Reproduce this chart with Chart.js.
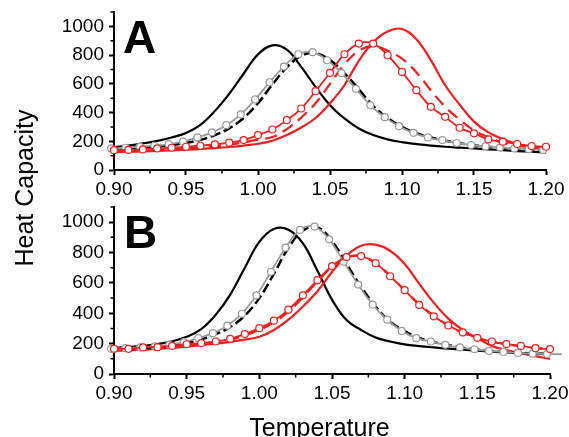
<!DOCTYPE html>
<html>
<head>
<meta charset="utf-8">
<script src="https://cdn.jsdelivr.net/npm/chart.js@4.4.0/dist/chart.umd.min.js"></script>
<style>
  html, body { margin: 0; padding: 0; background: #fff; overflow: hidden; }
  #wrap { position: relative; width: 569px; height: 437px; font-family: "Liberation Sans", Arial, sans-serif; }
  canvas { position: absolute; left: 0; }
  #chartA { top: 0; }
  #chartB { top: 200px; }
  .axisTitle { position: absolute; font-size: 25px; line-height: 30px; height: 30px; text-align: center; color: #000; white-space: nowrap; }
  #yTitle { width: 200px; left: -76px; top: 173px; transform: rotate(-90deg); }
  #xTitle { width: 300px; left: 169.5px; top: 412px; }
</style>
</head>
<body>
<div id="wrap">
  <canvas id="chartA" width="569" height="200"></canvas>
  <canvas id="chartB" width="569" height="237"></canvas>
  <div id="yTitle" class="axisTitle">Heat Capacity</div>
  <div id="xTitle" class="axisTitle">Temperature</div>
</div>
<script>
// temperatures
const temps = [0.90, 0.91, 0.92, 0.93, 0.94, 0.95, 0.96, 0.97, 0.98, 0.99, 1.00,
  1.01, 1.02, 1.03, 1.04, 1.05, 1.06, 1.07, 1.08, 1.09, 1.10,
  1.11, 1.12, 1.13, 1.14, 1.15, 1.16, 1.17, 1.18, 1.19, 1.20];
const tempsGrayA = [0.898, 0.908, 0.918, 0.928, 0.938, 0.948, 0.958, 0.968, 0.978, 0.988, 0.998,
  1.008, 1.018, 1.028, 1.038, 1.048, 1.058, 1.068, 1.078, 1.088, 1.098,
  1.108, 1.118, 1.128, 1.138, 1.148, 1.158, 1.168, 1.178, 1.188, 1.198];
const tempsGrayB = [0.898, 0.908, 0.918, 0.928, 0.938, 0.948, 0.958, 0.968, 0.978, 0.988, 0.998,
  1.008, 1.018, 1.028, 1.038, 1.048, 1.058, 1.068, 1.078, 1.088, 1.098,
  1.108, 1.118, 1.128, 1.138, 1.148, 1.158, 1.168, 1.178, 1.188, 1.198, 1.208];

// tick labels
const tempTicks = [0.90, 0.95, 1.00, 1.05, 1.10, 1.15, 1.20];
const tempMinor = [0.925, 0.975, 1.025, 1.075, 1.125, 1.175];
const heatTicks = [0, 200, 400, 600, 800, 1000];
const heatMinor = [100, 300, 500, 700, 900, 1100];

// panel A
const blackSolidA = [158, 170, 185, 203, 226, 258, 315, 410, 530, 670, 805,
  868, 838, 718, 578, 451, 359, 289, 243, 213, 194,
  180, 170, 162, 156, 150, 144, 138, 132, 127, 122];
const blackDashA = [148, 152, 157, 164, 174, 189, 210, 243, 290, 362, 465,
  595, 715, 795, 812, 765, 675, 562, 447, 362, 300,
  256, 226, 204, 187, 173, 162, 153, 146, 140, 135];
const grayCircA = [150, 155, 161, 169, 180, 197, 227, 262, 312, 387, 491,
  611, 720, 806, 820, 764, 675, 565, 450, 368, 305,
  259, 227, 208, 188, 174, 164, 156, 150, 145, 140];
const redSolidA = [125, 127, 130, 133, 137, 141, 146, 152, 160, 170, 183,
  204, 243, 296, 362, 465, 590, 760, 890, 965, 982,
  910, 765, 590, 455, 337, 262, 215, 180, 157, 140];
const redDashA = [135, 135, 137, 140, 144, 150, 157, 165, 176, 192, 212,
  230, 285, 365, 465, 600, 735, 830, 862, 830, 775,
  680, 555, 440, 350, 275, 228, 190, 170, 158, 150];
const redCircA = [138, 140, 143, 150, 155, 162, 169, 178, 190, 208, 243,
  282, 347, 428, 549, 676, 806, 880, 880, 799, 683,
  556, 440, 370, 294, 255, 213, 197, 181, 167, 162];

// panel B
const blackSolidB = [172, 178, 186, 197, 215, 245, 295, 390, 523, 700, 870,
  955, 950, 860, 680, 490, 355, 290, 240, 214, 195,
  184, 175, 167, 160, 153, 147, 142, 138, 134, 130];
const blackDashB = [160, 163, 168, 175, 185, 203, 228, 262, 310, 385, 500,
  660, 830, 945, 965, 875, 725, 575, 445, 345, 283,
  237, 210, 190, 173, 161, 151, 144, 139, 135, 131];
const grayCircB = [166, 170, 175, 182, 192, 210, 236, 269, 318, 397, 518,
  673, 832, 949, 971, 887, 740, 589, 457, 358, 284,
  236, 214, 192, 175, 163, 152, 145, 139, 134, 132, 130];
const redSolidB = [152, 155, 160, 165, 172, 181, 190, 200, 212, 226, 245,
  290, 358, 445, 545, 672, 780, 845, 852, 812, 725,
  595, 470, 365, 290, 236, 185, 158, 137, 118, 100];
const redDashB = [158, 160, 165, 170, 178, 188, 197, 208, 225, 255, 290,
  340, 410, 505, 610, 705, 765, 778, 730, 648, 552,
  460, 385, 318, 272, 238, 213, 196, 183, 171, 163];
const redCircB = [166, 166, 175, 177, 185, 196, 203, 214, 232, 263, 302,
  351, 424, 518, 618, 711, 770, 777, 730, 644, 552,
  455, 380, 320, 274, 238, 214, 197, 185, 170, 164];

const RED = "#f21d1d";
const GRAY = "#9a9a9a";
const FONT = '"Liberation Sans", Arial, sans-serif';
Chart.defaults.font.family = FONT;

function pts(xs, ys) {
  return xs.map((x, i) => ({ x: x, y: ys[i] }));
}

function line(xs, ys, style) {
  return Object.assign({
    data: pts(xs, ys),
    pointRadius: 0,
    borderWidth: 2.2,
    fill: false,
    tension: 0.4
  }, style);
}

function circles(xs, ys, color) {
  return line(xs, ys, {
    borderColor: color,
    borderWidth: 1.8,
    pointRadius: 3.5,
    pointBorderWidth: 1.2,
    pointBorderColor: color,
    pointBackgroundColor: "#fff",
    clip: false,
    order: 0
  });
}

// minor ticks and the panel letter
const panelDecor = {
  id: "panelDecor",
  afterDraw(chart, args, o) {
    const ctx = chart.ctx, area = chart.chartArea;
    const xs = chart.scales.x, ys = chart.scales.y;
    ctx.save();
    ctx.strokeStyle = "#000";
    ctx.lineWidth = 1.5;
    ctx.beginPath();
    tempMinor.forEach(v => {
      const px = xs.getPixelForValue(v);
      ctx.moveTo(px, area.bottom);
      ctx.lineTo(px, area.bottom + 3.5);
    });
    heatMinor.forEach(v => {
      const py = ys.getPixelForValue(v);
      ctx.moveTo(area.left, py);
      ctx.lineTo(area.left - 3.5, py);
    });
    ctx.stroke();
    ctx.fillStyle = "#000";
    ctx.font = "bold 46px " + FONT;
    ctx.textBaseline = "alphabetic";
    ctx.fillText(o.letter, area.left + o.dx, area.top + 41);
    ctx.restore();
  }
};

function makeChart(id, sets, letter, dx, padTop, padRight, xHeight) {
  return new Chart(document.getElementById(id), {
    type: "line",
    data: { datasets: sets },
    plugins: [panelDecor],
    options: {
      responsive: false,
      animation: false,
      events: [],
      layout: { padding: { top: padTop, right: padRight, left: 0, bottom: 0 } },
      plugins: {
        legend: { display: false },
        tooltip: { enabled: false },
        panelDecor: { letter: letter, dx: dx }
      },
      scales: {
        x: {
          type: "linear",
          min: 0.90,
          max: 1.20,
          afterBuildTicks: s => { s.ticks = tempTicks.map(v => ({ value: v })); },
          afterFit: s => { s.height = xHeight; s.paddingLeft = 0; s.paddingRight = 0; },
          ticks: {
            callback: v => v.toFixed(2),
            font: { size: 19 },
            color: "#000",
            padding: 3,
            maxRotation: 0,
            autoSkip: false
          },
          grid: { drawOnChartArea: false, tickLength: 5, tickWidth: 2, tickColor: "#000" },
          border: { color: "#000", width: 2 }
        },
        y: {
          min: 0,
          max: 1100,
          afterBuildTicks: s => { s.ticks = heatTicks.map(v => ({ value: v })); },
          afterFit: s => { s.width = 114; s.paddingTop = 0; s.paddingBottom = 0; },
          ticks: {
            callback: v => String(v),
            font: { size: 19 },
            color: "#000",
            padding: 5
          },
          grid: { drawOnChartArea: false, tickLength: 5, tickWidth: 2, tickColor: "#000" },
          border: { color: "#000", width: 2 }
        }
      }
    }
  });
}

makeChart("chartA", [
  circles(temps, redCircA, RED),
  circles(tempsGrayA, grayCircA, GRAY),
  line(temps, redDashA, { borderColor: RED, borderDash: [12, 7], order: 1 }),
  line(temps, blackDashA, { borderColor: "#000", borderWidth: 2.5, borderDash: [10, 4], order: 1 }),
  line(temps, redSolidA, { borderColor: RED, order: 2 }),
  line(temps, blackSolidA, { borderColor: "#000", order: 2 })
], "A", 9, 12, 23, 30);

makeChart("chartB", [
  circles(temps, redCircB, RED),
  circles(tempsGrayB, grayCircB, GRAY),
  line(temps, redDashB, { borderColor: RED, borderDash: [12, 7], order: 1 }),
  line(temps, blackDashB, { borderColor: "#000", borderWidth: 2.5, borderDash: [10, 4], order: 1 }),
  line(temps, redSolidB, { borderColor: RED, order: 2 }),
  line(temps, blackSolidB, { borderColor: "#000", order: 2 })
], "B", 10, 7, 19, 63);
</script>
</body>
</html>
